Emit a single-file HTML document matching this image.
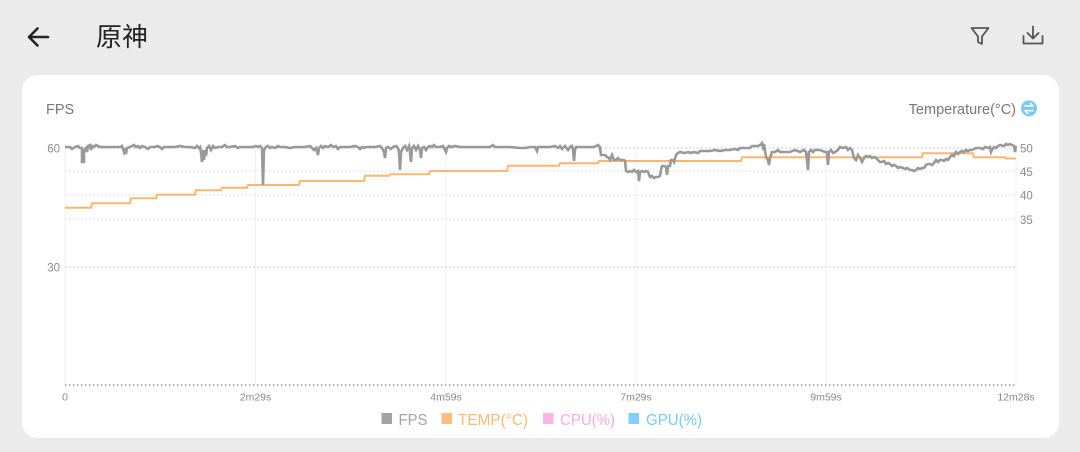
<!DOCTYPE html>
<html><head><meta charset="utf-8"><style>
html,body{margin:0;padding:0;background:#ebebeb;}
body{width:1080px;height:452px;overflow:hidden;position:relative;font-family:"Liberation Sans","Noto Sans CJK SC",sans-serif;}
svg{position:absolute;left:0;top:0;}
</style></head><body>
<svg width="1080" height="452" viewBox="0 0 1080 452" xmlns="http://www.w3.org/2000/svg">
<rect x="0" y="0" width="1080" height="452" fill="#ebebeb"/>
<!-- header -->
<path d="M48,37 H29 M37.5,28.5 L29,37 L37.5,45.5" fill="none" stroke="#222" stroke-width="2.6" stroke-linecap="round" stroke-linejoin="round"/>
<text x="96" y="46" font-family="'Liberation Sans','Noto Sans CJK SC',sans-serif" font-size="26" font-weight="400" fill="#222">原神</text>
<path d="M971.5,28 H988.5 L982,36.5 V44 L978,42 V36.5 Z" fill="none" stroke="#555" stroke-width="1.8" stroke-linejoin="round"/>
<path d="M1033,26.5 V38 M1027.5,33 L1033,38.5 L1038.5,33 M1023.5,36 V43.5 H1042.5 V36" fill="none" stroke="#555" stroke-width="1.8" stroke-linejoin="round" stroke-linecap="round"/>
<!-- card -->
<rect x="22" y="75" width="1037" height="363" rx="16" ry="16" fill="#ffffff"/>
<text x="46" y="114" font-size="14.5" fill="#777">FPS</text>
<text x="1016" y="114" font-size="14.5" fill="#777" text-anchor="end">Temperature(°C)</text>
<circle cx="1029" cy="108.3" r="8" fill="#7cc8f8"/>
<path d="M1025,106 H1033 L1030.3,103.3 M1033,110.6 H1025 L1027.7,113.3" fill="none" stroke="#fff" stroke-width="1.5" stroke-linecap="round" stroke-linejoin="round"/>
<!-- vertical grid -->
<g stroke="#f0f0f0" stroke-width="1">
<line x1="65" y1="148" x2="65" y2="385"/>
<line x1="255.5" y1="148" x2="255.5" y2="385"/>
<line x1="446" y1="148" x2="446" y2="385"/>
<line x1="636" y1="148" x2="636" y2="385"/>
<line x1="826" y1="148" x2="826" y2="385"/>
<line x1="1016" y1="148" x2="1016" y2="385"/>
</g>
<!-- horizontal dotted grid -->
<g stroke="#c8c8c8" stroke-width="1.3" stroke-dasharray="1.5 2.5">
<line x1="65" y1="148" x2="1016" y2="148"/>
<line x1="65" y1="171" x2="1016" y2="171" stroke="#dedede"/>
<line x1="65" y1="195" x2="1016" y2="195" stroke="#dedede"/>
<line x1="65" y1="219" x2="1016" y2="219" stroke="#dedede"/>
<line x1="65" y1="267" x2="1016" y2="267"/>
</g>
<line x1="65" y1="385" x2="1016" y2="385" stroke="#9a9a9a" stroke-width="1.6" stroke-dasharray="1.5 2.5"/>
<!-- axis labels -->
<g font-size="11.5" fill="#8a8a8a">
<text x="60" y="152.5" text-anchor="end">60</text>
<text x="60" y="271.5" text-anchor="end">30</text>
<text x="1020" y="152.5">50</text>
<text x="1020" y="176">45</text>
<text x="1020" y="199.5">40</text>
<text x="1020" y="224">35</text>
</g>
<g font-size="10.5" fill="#8a8a8a" text-anchor="middle">
<text x="65" y="400.5">0</text>
<text x="255.5" y="400.5">2m29s</text>
<text x="446" y="400.5">4m59s</text>
<text x="636" y="400.5">7m29s</text>
<text x="826" y="400.5">9m59s</text>
<text x="1016" y="400.5">12m28s</text>
</g>
<!-- temp -->
<path d="M65,207.7 H91 L92,203.3 H130 L131,198.3 H156 L157,194.7 H195 L196,190.3 H221 L222,187.7 H247 L248,185 H299 L300,181 H364 L365,175.7 H389 L390,174.3 H429 L430,171 H507 L508,165.7 H559 L560,163.3 H598 L599,161 H741 L742,157.3 H922 L923,153.3 H973 L974,157.3 H1005 L1006,158.5 H1016" fill="none" stroke="#ffb56e" stroke-width="2"/>
<!-- fps -->
<polyline fill="none" stroke="#999999" stroke-width="2.6" stroke-linejoin="miter" points="65,147 70,147 72,149 75,147 78,146 80,148 82,148 82,162 84,162 84,150 86,148 87,152 88,146 90,145 91,150 92,146 94,147 96,145 98,146 100,147 110,147 120,147 122,146 124,152 125,148 126,154 127,148 130,147 132,146 134,145 136,147 138,146 140,148 142,146 145,147 148,149 150,147 155,147 157,146 160,147 162,149 164,147 170,147 175,147 180,146 185,147 190,147 195,148 197,146 199,148 200,147 201,152 202,162 203,150 204,160 205,150 206,156 207,148 209,146 211,150 213,146 215,148 218,147 222,147 225,145 227,147 230,147 235,146 238,148 240,147 245,147 250,147 253,147 256,146 258,147 260,146 261,147 262,148 263,185 264,150 266,147 268,146 270,148 272,147 275,148 278,146 280,147 285,147 290,148 295,147 300,147 305,147 310,146 312,148 314,150 316,148 318,155 319,148 321,146 323,148 325,146 328,147 331,145 333,147 336,146 338,149 340,147 345,147 350,147 355,146 358,147 360,149 362,147 364,148 366,147 370,147 375,147 380,146 382,148 384,152 385,158 386,148 388,147 391,149 393,147 396,146 398,148 399,152 400,170 401,152 403,148 405,146 407,150 409,146 410,152 411,162 412,148 414,146 416,150 418,146 420,150 421,158 422,148 424,147 426,150 428,147 430,146 432,147 434,145 436,147 440,147 443,146 444,148 446,152 447,148 449,146 451,147 455,146 460,147 470,147 480,147 485,147 490,147 493,145 495,147 500,147 510,147 520,148 525,148 530,147 535,147 537,151 538,147 545,147 550,147 555,146 558,148 560,146 562,149 565,146 568,150 570,147 572,146 573,150 574,161 575,150 576,147 580,147 585,147 590,147 594,147 596,146 598,145 600,147 601,155 605,155 607,157 609,158 610,160 612,155 614,160 616,160 618,158 620,160 622,160 624,160 625,161 626,171 628,172 630,171 632,172 634,170 636,172 638,171 639,181 640,172 642,171 644,172 646,171 648,172 650,177 652,176 654,178 656,177 658,177 660,176 661,170 662,166 664,166 666,167 667,175 668,166 670,166 671,160 673,160 674,162 676,155 678,153 680,152 685,153 688,152 690,153 694,152 698,153 700,151 705,151 710,151 715,150 720,151 725,150 730,150 735,149 738,150 740,148 745,148 750,148 752,146 755,146 758,146 760,145 762,143 763,147 764,144 766,157 768,160 769,165 770,158 772,152 775,152 778,150 780,152 785,152 790,152 795,150 800,152 804,150 806,152 807,160 808,170 809,152 811,150 813,152 815,150 820,150 825,152 827,152 828,165 829,152 831,150 833,153 835,152 838,150 840,147 843,148 846,147 848,150 850,148 852,150 854,158 856,160 858,155 860,158 862,162 864,158 866,156 868,157 870,156 872,158 874,157 876,158 878,160 880,162 882,162 884,161 886,164 888,163 890,164 892,166 894,165 896,166 898,168 900,167 903,168 905,169 907,168 910,170 912,170 914,171 916,170 918,168 920,169 922,168 924,168 926,165 928,164 930,164 932,165 934,163 936,160 938,162 940,160 942,160 944,161 946,159 948,160 950,157 952,155 954,156 956,152 958,154 960,152 962,151 964,152 966,150 968,151 970,150 972,150 974,149 976,148 980,148 983,149 985,147 988,148 990,147 991,152 992,150 994,147 996,148 998,146 1000,145 1004,146 1006,144 1008,145 1010,144 1012,145 1014,146 1015,152 1016,146"/>
<!-- legend -->
<rect x="381.5" y="413" width="10.5" height="11" fill="#a3a3a3"/>
<text x="398.5" y="425" font-size="16" fill="#a3a3a3" textLength="29" lengthAdjust="spacingAndGlyphs">FPS</text>
<rect x="441.5" y="413" width="10.5" height="11" fill="#ffbd7d"/>
<text x="458" y="425" font-size="16" fill="#ffb870" textLength="70" lengthAdjust="spacingAndGlyphs">TEMP(°C)</text>
<rect x="543" y="413" width="10.5" height="11" fill="#ffb5e3"/>
<text x="560" y="425" font-size="16" fill="#ffaadc" textLength="55" lengthAdjust="spacingAndGlyphs">CPU(%)</text>
<rect x="628.5" y="413" width="10.5" height="11" fill="#86cffc"/>
<text x="646" y="425" font-size="16" fill="#7cc8f8" textLength="56" lengthAdjust="spacingAndGlyphs">GPU(%)</text>
</svg>
</body></html>
